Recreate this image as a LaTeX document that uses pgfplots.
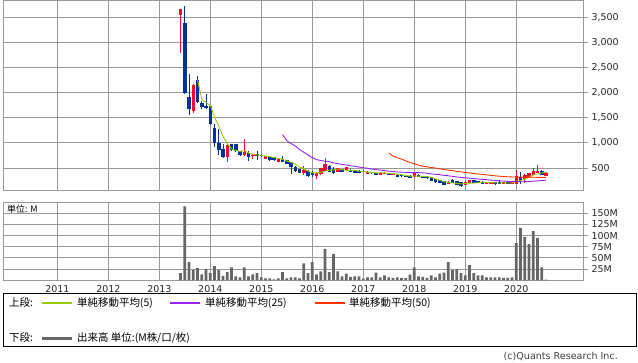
\documentclass[border=0pt]{standalone}
\usepackage{fontspec}
\setmainfont{DejaVu Sans}
\newfontfamily\jp{Noto Sans CJK JP}
\usepackage{pgfplots}
\usepackage{pgfplotstable}
\pgfplotsset{compat=1.18}

\definecolor{cUp}{HTML}{FF0033}
\definecolor{cDown}{HTML}{003399}
\definecolor{cMAa}{HTML}{99CC00}
\definecolor{cMAb}{HTML}{9922EE}
\definecolor{cMAc}{HTML}{FF3300}
\definecolor{cVol}{HTML}{666666}
\definecolor{cGrid}{HTML}{999999}

% monthly candles, i = months since Jan 2013
\pgfplotstableread{
i O H L C
5 3550 3670 2790 3660
8 1627 2180 1594 2145
16 731 970 617 963
20 771 1070 737 811
22 737 780 678 771
25 684 745 680 738
28 632 690 625 685
34 400 546 366 466
37 346 420 293 412
38 380 505 370 500
39 446 698 440 580
42 433 510 425 500
44 466 520 445 513
49 387 440 380 433
52 373 420 365 413
53 380 420 375 413
55 366 405 360 400
60 320 420 310 400
68 193 240 185 233
72 173 240 165 233
73 206 266 200 260
77 193 233 186 226
78 193 233 186 226
81 193 233 186 226
83 193 240 186 233
84 193 466 186 353
86 280 380 213 366
87 333 410 300 400
88 366 500 360 446
89 400 553 395 453
91 353 420 345 413
}\upcandles

\pgfplotstableread{
i O H L C
6 3380 3720 1970 1990
7 1906 2365 1548 1667
9 2259 2339 1800 1813
10 1800 1830 1667 1713
11 1741 1980 1680 1687
12 1727 1740 1360 1369
13 1295 1370 917 996
14 996 1283 771 870
15 890 983 705 731
17 970 975 842 870
18 970 975 820 831
19 831 840 737 771
21 791 831 651 718
23 772 838 665 738
24 771 780 720 737
26 718 725 650 665
27 712 718 640 652
29 672 737 620 632
30 652 660 575 586
31 618 625 386 532
32 532 540 420 446
33 479 490 400 412
35 446 455 333 353
36 400 446 330 366
40 546 560 420 433
41 479 520 390 400
43 479 490 425 433
45 466 475 425 433
46 452 460 400 412
47 446 455 395 400
48 453 460 420 433
50 420 430 390 400
51 400 405 360 366
54 400 405 365 373
56 373 380 320 326
57 366 372 333 340
58 353 360 320 326
59 353 360 305 313
61 373 380 325 333
62 346 350 305 313
63 333 340 293 300
64 320 325 245 253
65 280 290 213 220
66 260 270 200 206
67 240 250 165 173
69 260 287 200 206
70 246 250 165 173
71 220 226 130 140
74 260 266 206 213
75 246 253 200 206
76 233 240 186 193
79 226 233 173 180
80 226 260 186 193
82 233 240 186 193
85 333 433 193 253
90 446 455 360 366
}\downcandles

\pgfplotstableread{
i v
9 2255
10 1866
11 1805
12 1745
13 1516
14 1327
15 1131
16 986
17 886
18 853
19 833
20 849
21 800
22 780
23 762
24 755
25 740
26 730
27 706
28 695
29 674
30 644
31 617
32 576
33 522
34 488
35 442
36 409
37 402
38 419
39 442
40 458
41 465
42 483
43 469
44 456
45 456
46 458
47 438
48 438
49 422
50 416
51 406
52 409
53 405
54 393
55 393
56 385
57 370
58 353
59 341
60 341
61 342
62 337
63 332
64 320
65 284
66 258
67 230
68 217
69 208
70 198
71 185
72 197
73 202
74 204
75 210
76 221
77 220
78 213
79 206
80 204
81 210
82 204
83 205
84 240
85 252
86 280
87 321
88 364
89 384
90 406
91 416
}\maA

\pgfplotstableread{
i v
29 1169
30 1046
31 988
32 939
33 869
34 816
35 761
36 708
37 670
38 650
39 639
40 627
41 604
42 589
43 573
44 563
45 548
46 536
47 521
48 509
49 497
50 483
51 471
52 462
53 451
54 440
55 433
56 425
57 420
58 417
59 411
60 413
61 411
62 407
63 399
64 386
65 378
66 370
67 357
68 349
69 337
70 326
71 315
72 309
73 302
74 293
75 285
76 278
77 271
78 263
79 256
80 247
81 243
82 238
83 234
84 235
85 230
86 231
87 234
88 240
89 248
90 254
91 262
}\maB

\pgfplotstableread{
i v
54 805
55 739
56 706
57 680
58 643
59 613
60 587
61 560
62 539
63 525
64 513
65 502
66 487
67 473
68 461
69 450
70 437
71 426
72 415
73 405
74 395
75 384
76 375
77 366
78 357
79 348
80 340
81 334
82 329
83 325
84 323
85 321
86 321
87 321
88 320
89 317
90 316
91 316
}\maC

\pgfplotstableread{
i v
5 16
6 165
7 40.5
8 22.5
9 27
10 13.5
11 25
12 16
13 31.5
14 22.5
15 9.7
16 18
17 29
18 9
19 6.8
20 29
21 9
22 13.5
23 16
24 6.8
25 4.5
26 4.5
27 2.2
28 4.5
29 18
30 4.5
31 6.8
32 6.8
33 4.5
34 38
35 16
36 40.5
37 13.5
38 20
39 70
40 18
41 58.5
42 20
43 9
44 15
45 7.5
46 9
47 9
48 3.8
49 6.8
50 6.8
51 17
52 6.8
53 11
54 6.8
55 5.3
56 6.8
57 5.3
58 5.3
59 12.8
60 29
61 9
62 7.5
63 5.3
64 11
65 6.8
66 15
67 17
68 40.5
69 23
70 25
71 16
72 11
73 34
74 16
75 11
76 11
77 6.8
78 6.8
79 6.8
80 6.8
81 5.3
82 5.3
83 6.8
84 83
85 117
86 97
87 81
88 110
89 95
90 29
91 1.5
}\vol

\pgfplotsset{
  chart/.style={
    scale only axis, width=580bp,
    xmin=2009.935, xmax=2021.308,
    xtick={2011,2012,...,2020},
    grid=major, grid style={cGrid, line width=1bp},
    axis line style={cGrid, line width=1bp},
    ytick pos=right, yticklabel pos=right,
    tick align=outside, major tick length=5bp,
    xtick style={draw=none},
    ytick style={cGrid, line width=1bp},
    tick label style={font=\fontsize{9.5}{11}\selectfont, text=black!85},
    /pgf/number format/assume math mode=true,
  },
  wick/.style={draw=none, mark=none, forget plot,
    error bars/.cd, y dir=plus, y explicit, error mark=none,
    error bar style={draw=#1, solid, line width=1bp}},
  body/.style={draw=none, mark=none, forget plot,
    error bars/.cd, y dir=plus, y explicit, error mark=none,
    error bar style={draw=#1, solid, line width=3.4bp, line cap=butt}},
}

\begin{document}
\begin{tikzpicture}[x=1bp,y=1bp]
\useasboundingbox (0,0) rectangle (638,362);

% upper panel: price
\begin{axis}[chart, at={(3bp,171.7bp)}, anchor=south west, height=189.8bp,
  ymin=60, ymax=3830, ytick={500,1000,...,3500},
  xticklabels={},
  yticklabel style={/pgf/number format/.cd, 1000 sep={,}},
]
\addplot[wick=cUp] table[x expr=2013+\thisrow{i}/12, y=L, y error plus expr=\thisrow{H}-\thisrow{L}] {\upcandles};
\addplot[wick=cDown] table[x expr=2013+\thisrow{i}/12, y=L, y error plus expr=\thisrow{H}-\thisrow{L}] {\downcandles};
\addplot[body=cUp] table[x expr=2013+\thisrow{i}/12, y=O, y error plus expr=\thisrow{C}-\thisrow{O}] {\upcandles};
\addplot[body=cDown] table[x expr=2013+\thisrow{i}/12, y=C, y error plus expr=\thisrow{O}-\thisrow{C}] {\downcandles};
\addplot[cMAa, line width=0.9bp, mark=none] table[x expr=2013+\thisrow{i}/12, y=v] {\maA};
\addplot[cMAb, line width=0.9bp, mark=none] table[x expr=2013+\thisrow{i}/12, y=v] {\maB};
\addplot[cMAc, line width=0.9bp, mark=none] table[x expr=2013+\thisrow{i}/12, y=v] {\maC};
\end{axis}

% lower panel: volume
\begin{axis}[chart, at={(3bp,81.7bp)}, anchor=south west, height=78.3bp,
  ymin=0, ymax=175, ytick={25,50,75,100,125,150},
  yticklabels={25M,50M,75M,100M,125M,150M},
  xticklabels={2011,2012,2013,2014,2015,2016,2017,2018,2019,2020},
  xticklabel style={yshift=3bp},
]
\addplot[ybar, bar width=2.7bp, fill=cVol, draw=none] table[x expr=2013+\thisrow{i}/12, y=v] {\vol};
\end{axis}

\node[anchor=west, font=\jp\fontsize{9}{10}\selectfont, inner sep=0pt] at (7bp,153bp) {単位: M};

% legend
\draw[black, line width=1bp] (3bp,16bp) rectangle (636bp,69bp);
\begin{scope}[every node/.style={anchor=west, inner sep=0pt, font=\jp\fontsize{10.5}{12}\selectfont}]
\node at (9bp,59bp) {上段:};
\draw[cMAa, line width=1.3bp] (42bp,59bp) -- (72bp,59bp);
\node at (77bp,59bp) {単純移動平均(5)};
\draw[cMAb, line width=1.3bp] (170bp,59bp) -- (200bp,59bp);
\node at (205bp,59bp) {単純移動平均(25)};
\draw[cMAc, line width=1.3bp] (315bp,59bp) -- (345bp,59bp);
\node at (349bp,59bp) {単純移動平均(50)};
\node at (9bp,24bp) {下段:};
\draw[cVol, line width=3bp] (42bp,24bp) -- (72bp,24bp);
\node at (77bp,24bp) {出来高 単位:(M株/口/枚)};
\end{scope}
\node[anchor=east, inner sep=0pt, font=\fontsize{9.6}{10}\selectfont, text=black!75] at (618bp,6bp) {(c)Quants Research Inc.};
\end{tikzpicture}
\end{document}
